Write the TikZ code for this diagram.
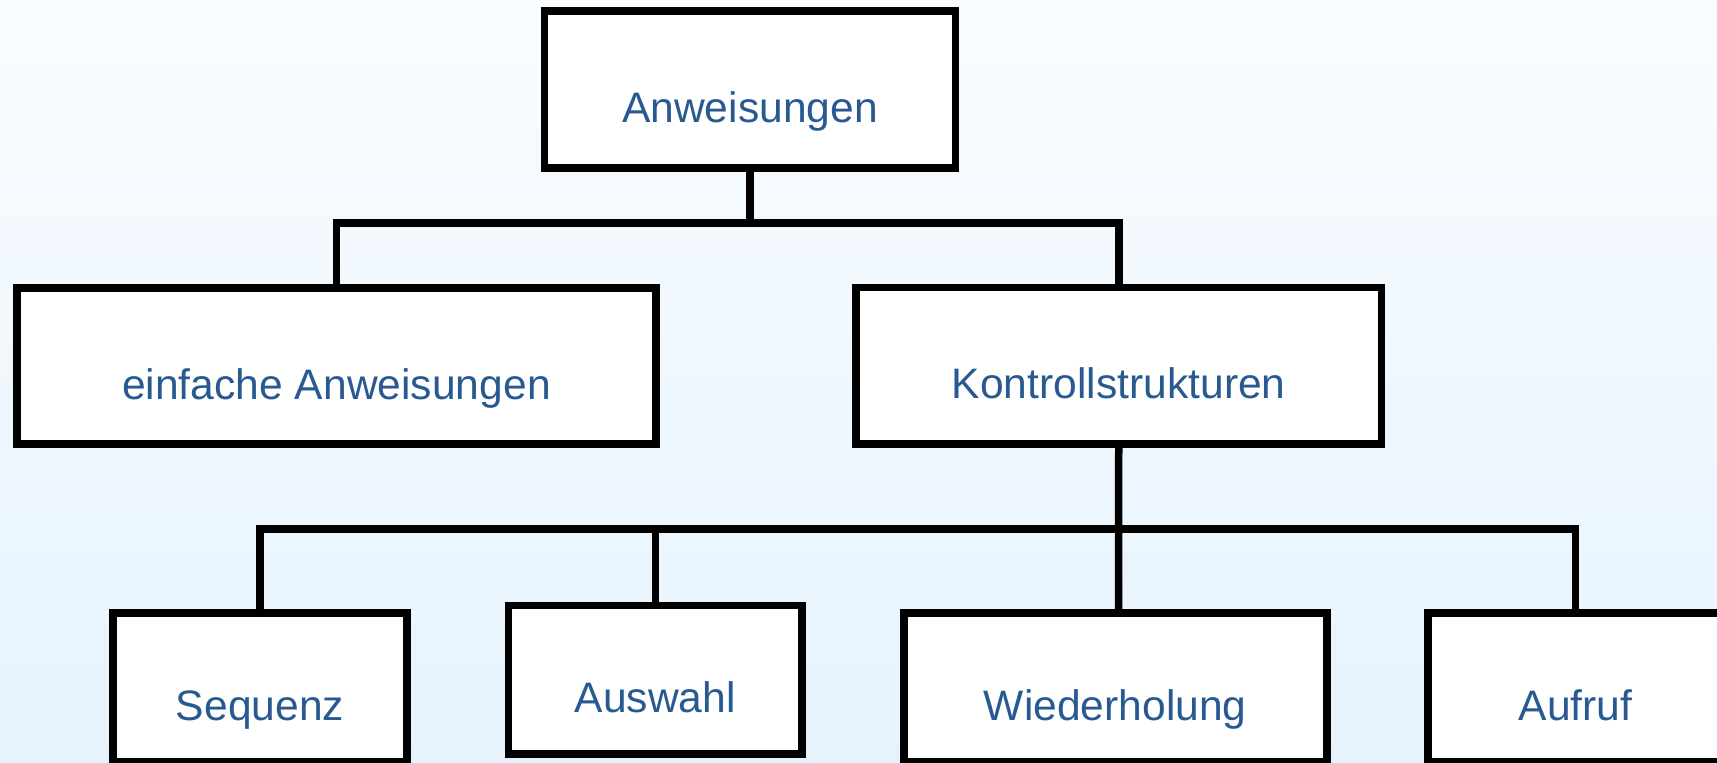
\documentclass[tikz,border=0pt]{standalone}
\usepackage{fontspec}
\setmainfont{Liberation Sans}
\usepackage{xcolor}
\definecolor{labelblue}{RGB}{40,90,145}
\definecolor{bgtop}{RGB}{249,252,255}
\definecolor{bgbottom}{RGB}{230,243,253}

\tikzset{
   kasten/.style = {draw, line width=3.75pt, fill=white, inner sep=0pt,
                    text=labelblue, font=\fontsize{21.3pt}{24pt}\selectfont,
                    text height=33pt, text depth=0pt},
   ast/.style = {line width=3.75pt}
}

\begin{document}
\begin{tikzpicture}[x=0.5pt, y=-0.5pt]
      \clip (0,0) rectangle (1717,762);
      \shade[top color=bgtop, bottom color=bgbottom] (0,0) rectangle (1717,762);

      \node[kasten, minimum width=205.6pt, minimum height=78.5pt] (anw)   at (750,89.5)     {Anweisungen};
      \node[kasten, minimum width=319.5pt, minimum height=78pt]   (einf)  at (336.5,366)    {einfache Anweisungen};
      \node[kasten, minimum width=262.8pt, minimum height=78.2pt] (kontr) at (1118.75,365.75) {Kontrollstrukturen};
      \node[kasten, minimum width=147pt,   minimum height=74.2pt] (seq)   at (260,687.25)   {Sequenz};
      \node[kasten, minimum width=146.7pt, minimum height=74.2pt] (ausw)  at (655.3,679.75) {Auswahl};
      \node[kasten, minimum width=211.5pt, minimum height=74.2pt] (wied)  at (1115.25,687.25) {Wiederholung};
      \node[kasten, minimum width=147.5pt, minimum height=74.2pt] (aufr)  at (1575.5,687.25) {Aufruf};

      \coordinate (bus1) at (750,223);
      \coordinate (bus2) at (1118.5,529);

      \draw[ast] (anw.south) -- (bus1);
      \draw[ast] (einf.north) |- (bus1) -| (kontr.north);
      \draw[ast] (kontr.south) -- (bus2) -- (bus2 |- wied.north);
      \draw[ast] (seq.north) |- (bus2) -| (aufr.north);
      \draw[ast] (ausw.north) -- (ausw.north |- bus2);
\end{tikzpicture}
\end{document}
